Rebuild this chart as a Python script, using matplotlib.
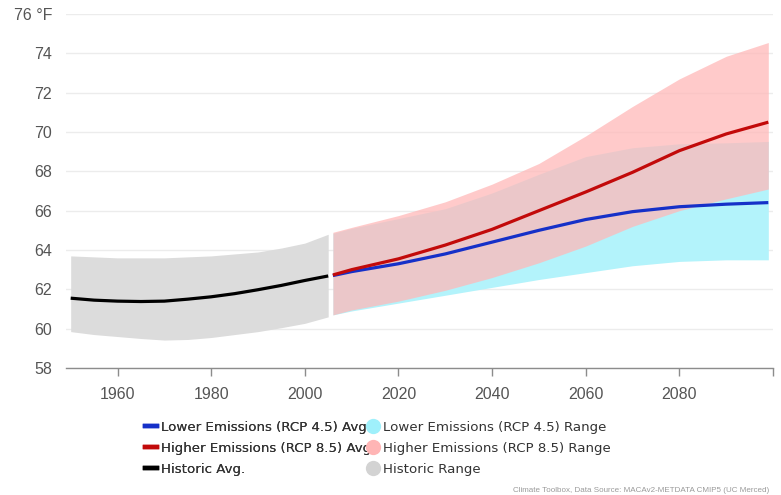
import matplotlib
matplotlib.use("Agg")
import matplotlib.pyplot as plt
from matplotlib.lines import Line2D

# historic period (annual avg temperature, deg F)
hist_years = [1950, 1955, 1960, 1965, 1970, 1975, 1980, 1985, 1990, 1995, 2000, 2005]
hist_avg = [61.55, 61.45, 61.4, 61.38, 61.4, 61.5, 61.62, 61.78, 61.98, 62.2, 62.45, 62.68]
hist_hi = [63.7, 63.65, 63.6, 63.6, 63.6, 63.65, 63.7, 63.8, 63.9, 64.1, 64.35, 64.8]
hist_lo = [59.85, 59.7, 59.6, 59.5, 59.42, 59.45, 59.55, 59.7, 59.85, 60.05, 60.27, 60.6]

# projections
fut_years = [2006, 2010, 2020, 2030, 2040, 2050, 2060, 2070, 2080, 2090, 2099]
rcp45_avg = [62.7, 62.9, 63.3, 63.8, 64.4, 65.0, 65.55, 65.95, 66.2, 66.33, 66.41]
rcp45_hi = [64.85, 65.1, 65.6, 66.1, 66.9, 67.85, 68.75, 69.2, 69.4, 69.45, 69.52]
rcp45_lo = [60.7, 60.9, 61.3, 61.7, 62.1, 62.5, 62.85, 63.2, 63.42, 63.5, 63.5]
rcp85_avg = [62.73, 63.0, 63.55, 64.25, 65.05, 66.0, 66.95, 67.95, 69.05, 69.9, 70.5]
rcp85_hi = [64.9, 65.15, 65.75, 66.45, 67.35, 68.4, 69.8, 71.3, 72.7, 73.85, 74.55]
rcp85_lo = [60.7, 60.95, 61.4, 61.95, 62.6, 63.35, 64.2, 65.2, 66.0, 66.6, 67.1]

x_ticks = [1960, 1980, 2000, 2020, 2040, 2060, 2080]
y_ticks = [58, 60, 62, 64, 66, 68, 70, 72, 74, 76]
y_labels = ["58", "60", "62", "64", "66", "68", "70", "72", "74", "76 °F"]

BLUE = "#1530c8"
RED = "#c20a0a"
CYAN = "#b3f3fb"
PINK = "#ffb9b9"
GRAY = "#dcdcdc"

fig = plt.figure(figsize=(7.81, 4.95), dpi=100)
ax = fig.add_axes([66 / 781, 1 - 368 / 495, 707 / 781, 354 / 495])

ax.fill_between(hist_years, hist_lo, hist_hi, color=GRAY, lw=0, zorder=2)
ax.fill_between(fut_years, rcp45_lo, rcp45_hi, color=CYAN, lw=0, zorder=2)
ax.fill_between(fut_years, rcp85_lo, rcp85_hi, color=PINK, alpha=0.75, lw=0, zorder=3)

ax.plot(hist_years, hist_avg, color="black", lw=2.3, zorder=5, solid_capstyle="butt")
ax.plot(fut_years, rcp45_avg, color=BLUE, lw=2.3, zorder=5, solid_capstyle="butt")
ax.plot(fut_years, rcp85_avg, color=RED, lw=2.3, zorder=6, solid_capstyle="butt")

ax.set_xlim(1949, 2100)
ax.set_ylim(58, 76)
ax.set_xticks(x_ticks)
ax.set_xticks([2100], minor=True)
ax.set_yticks(y_ticks)
ax.set_yticklabels(y_labels)
ax.grid(axis="y", color="#ececec", lw=1.0, zorder=0)

for s in ["top", "right", "left"]:
    ax.spines[s].set_visible(False)
ax.spines["bottom"].set_color("#8c8c8c")
ax.spines["bottom"].set_linewidth(1.0)
ax.tick_params(axis="y", length=0, pad=10, labelsize=11.5, labelcolor="#555555")
ax.tick_params(axis="x", which="both", length=6, width=1, color="#8c8c8c",
               pad=8, labelsize=11.5, labelcolor="#555555")
for lab in ax.get_xticklabels() + ax.get_yticklabels():
    lab.set_fontfamily("Liberation Sans")

# legend, two columns built as two legends
line_handles = [Line2D([], [], color=c, lw=3.2) for c in (BLUE, RED, "black")]
line_labels = ["Lower Emissions (RCP 4.5) Avg.", "Higher Emissions (RCP 8.5) Avg", "Historic Avg."]
dot_handles = [Line2D([], [], ls="none", marker="o", ms=11, mec="none", mfc=c)
               for c in ("#9ff0fb", "#ffb5b5", "#d3d3d3")]
dot_labels = ["Lower Emissions (RCP 4.5) Range", "Higher Emissions (RCP 8.5) Range", "Historic Range"]

leg_kw = dict(frameon=False, labelspacing=0.6, borderpad=0, borderaxespad=0,
              labelcolor="#333333", prop={"family": "DejaVu Sans", "size": 9.6})
leg1 = fig.legend(line_handles, line_labels, loc="upper left", bbox_to_anchor=(145 / 781, 1 - 421 / 495),
                  handlelength=0.9, handletextpad=0.3, **leg_kw)
leg2 = fig.legend(dot_handles, dot_labels, loc="upper left", bbox_to_anchor=(366 / 781, 1 - 421 / 495),
                  handlelength=1.0, handletextpad=0.25, **leg_kw)
fig.add_artist(leg1)

fig.text(769 / 781, 1 - 490 / 495, "Climate Toolbox, Data Source: MACAv2-METDATA CMIP5 (UC Merced)",
         ha="right", va="center", fontsize=5.8, color="#9a9a9a", family="Liberation Sans")

fig.savefig("out.png", dpi=100)
